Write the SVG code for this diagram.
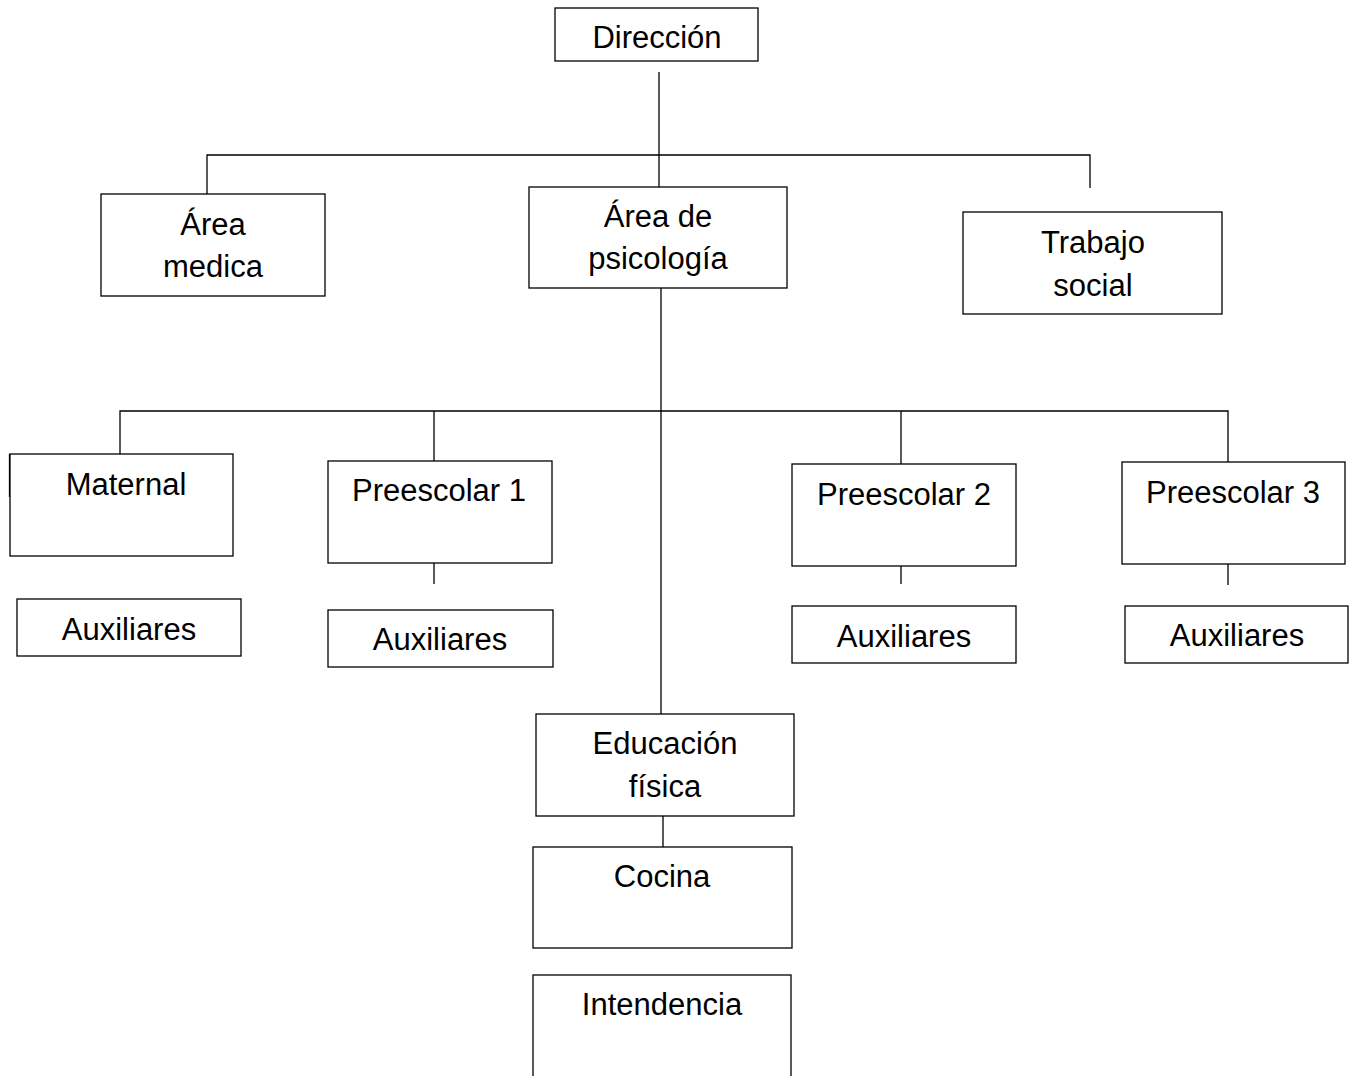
<svg xmlns="http://www.w3.org/2000/svg" width="1352" height="1076" viewBox="0 0 1352 1076">
<style>
.box{fill:#fff;stroke:#000;stroke-width:1.3}
.ln{stroke:#000;stroke-width:1.3;fill:none}
text{font-family:"Liberation Sans",Arial,sans-serif;font-size:31px;fill:#000;text-anchor:middle}
</style>
<rect width="1352" height="1076" fill="#fff"/>
<g id="connectors">
<path class="ln" d="M659 72V187"/>
<path class="ln" d="M207 194V155H1090V188"/>
<path class="ln" d="M661 288V714"/>
<path class="ln" d="M120 454V411H1228V462"/>
<path class="ln" d="M434 411V461"/>
<path class="ln" d="M901 411V464"/>
<path class="ln" d="M434 563V584"/>
<path class="ln" d="M901 566V584"/>
<path class="ln" d="M1228 564V585"/>
<path class="ln" d="M663 816V847"/>
<path class="ln" d="M9.5 454V497"/>
</g>
<g id="direccion"><rect class="box" x="555" y="8" width="203" height="53"/><text x="657" y="48">Dirección</text></g>
<g id="area-medica"><rect class="box" x="101" y="194" width="224" height="102"/><text x="213" y="235">Área</text><text x="213" y="277">medica</text></g>
<g id="area-psicologia"><rect class="box" x="529" y="187" width="258" height="101"/><text x="658" y="227">Área de</text><text x="658" y="269">psicología</text></g>
<g id="trabajo-social"><rect class="box" x="963" y="212" width="259" height="102"/><text x="1093" y="253">Trabajo</text><text x="1093" y="296">social</text></g>
<g id="maternal"><rect class="box" x="10" y="454" width="223" height="102"/><text x="126" y="495">Maternal</text></g>
<g id="aux-maternal"><rect class="box" x="17" y="599" width="224" height="57"/><text x="129" y="640">Auxiliares</text></g>
<g id="preescolar1"><rect class="box" x="328" y="461" width="224" height="102"/><text x="439" y="501">Preescolar 1</text></g>
<g id="aux-p1"><rect class="box" x="328" y="610" width="225" height="57"/><text x="440" y="650">Auxiliares</text></g>
<g id="preescolar2"><rect class="box" x="792" y="464" width="224" height="102"/><text x="904" y="505">Preescolar 2</text></g>
<g id="aux-p2"><rect class="box" x="792" y="606" width="224" height="57"/><text x="904" y="647">Auxiliares</text></g>
<g id="preescolar3"><rect class="box" x="1122" y="462" width="223" height="102"/><text x="1233" y="503">Preescolar 3</text></g>
<g id="aux-p3"><rect class="box" x="1125" y="606" width="223" height="57"/><text x="1237" y="646">Auxiliares</text></g>
<g id="educacion-fisica"><rect class="box" x="536" y="714" width="258" height="102"/><text x="665" y="754">Educación</text><text x="665" y="797">física</text></g>
<g id="cocina"><rect class="box" x="533" y="847" width="259" height="101"/><text x="662" y="887">Cocina</text></g>
<g id="intendencia"><rect class="box" x="533" y="975" width="258" height="120"/><text x="662" y="1015">Intendencia</text></g>
</svg>
